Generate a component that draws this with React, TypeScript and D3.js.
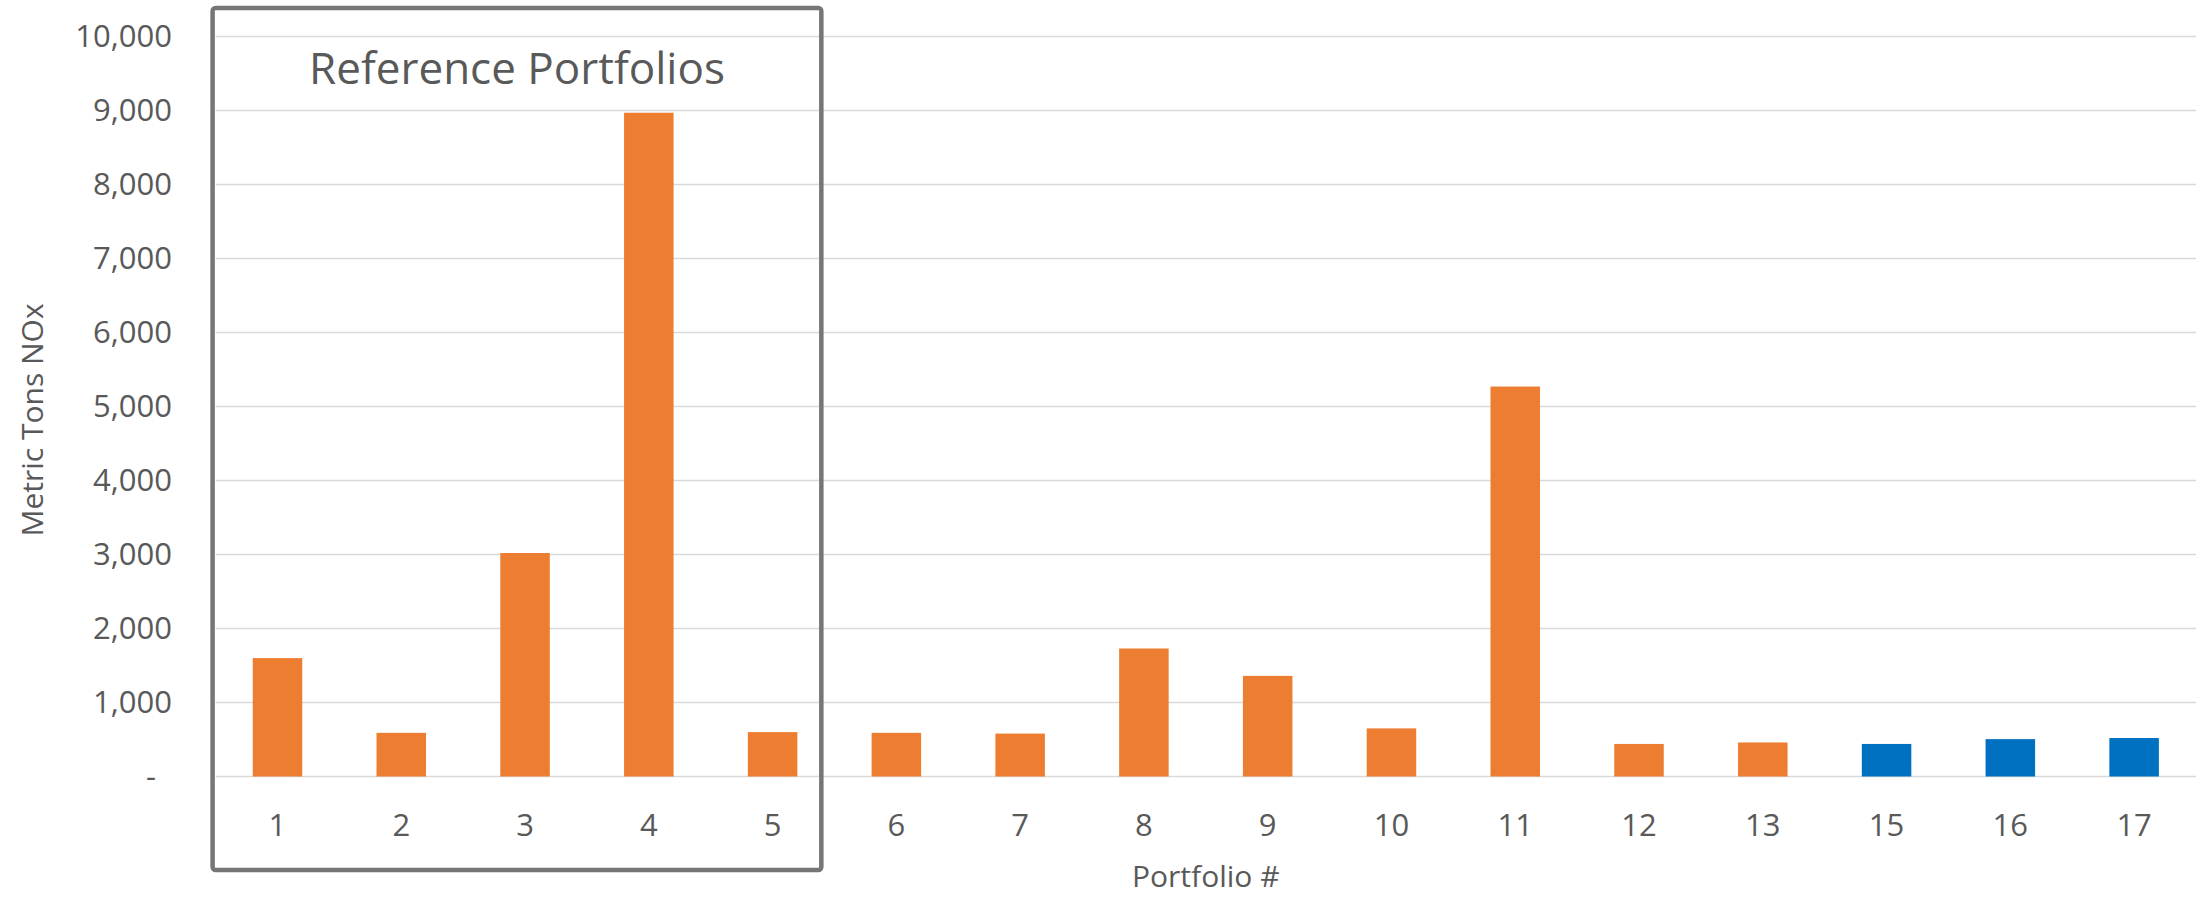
import React from "react";
import * as d3 from "d3";

// Portfolio identifiers shown on the category axis
const portfolios = ["1", "2", "3", "4", "5", "6", "7", "8", "9", "10", "11", "12", "13", "15", "16", "17"];
// Annual NOx emissions per portfolio, metric tons
const noxTons = [1600, 590, 3020, 8970, 600, 590, 580, 1730, 1360, 650, 5270, 440, 460, 440, 505, 520];
// Portfolio group: "base" portfolios in orange, "alt" portfolios in blue
const groups = ["base", "base", "base", "base", "base", "base", "base", "base", "base", "base", "base", "base", "base", "alt", "alt", "alt"];
// Value-axis ticks
const yTicks = [0, 1000, 2000, 3000, 4000, 5000, 6000, 7000, 8000, 9000, 10000];
// Portfolios enclosed by the reference box
const referenceSet = ["1", "2", "3", "4", "5"];

const W = 2198;
const H = 897;
const plot = { left: 215.6, right: 2196, top: 36.5, bottom: 776.5 };

const groupColor: Record<string, string> = { base: "#ED7D31", alt: "#0070C0" };
const textColor = "#595959";
const font = "'Open Sans', sans-serif";

export default function App() {
  const x = d3
    .scaleBand<string>()
    .domain(portfolios)
    .range([plot.left, plot.right])
    .paddingInner(0.6)
    .paddingOuter(0.3);
  const y = d3.scaleLinear().domain([0, 10000]).range([plot.bottom, plot.top]);
  const fmt = d3.format(",");

  const lastRef = referenceSet[referenceSet.length - 1];
  const boxLeft = plot.left - 3;
  const boxRight = (x(lastRef) ?? 0) + x.bandwidth() + 24;
  const boxTop = 8;
  const boxBottom = 870;

  return (
    <svg
      width={W}
      height={H}
      style={{ position: "absolute", left: 0, top: 0, background: "#fff" }}
      fontFamily={font}
    >
      {/* horizontal gridlines */}
      {yTicks.map((t) => (
        <line
          key={"g" + t}
          x1={plot.left}
          x2={plot.right}
          y1={y(t)}
          y2={y(t)}
          stroke="#D9D9D9"
          strokeWidth={1.5}
        />
      ))}

      {/* bars */}
      {portfolios.map((p, i) => (
        <rect
          key={"b" + p}
          x={x(p)}
          y={y(noxTons[i])}
          width={x.bandwidth()}
          height={y(0) - y(noxTons[i])}
          fill={groupColor[groups[i]]}
        />
      ))}

      {/* value axis labels */}
      {yTicks.map((t) => (
        <text
          key={"yl" + t}
          x={t === 0 ? 156 : 172}
          y={y(t)}
          dy="0.35em"
          textAnchor="end"
          fontSize={31}
          fill={textColor}
        >
          {t === 0 ? "-" : fmt(t)}
        </text>
      ))}

      {/* category axis labels */}
      {portfolios.map((p) => (
        <text
          key={"xl" + p}
          x={(x(p) ?? 0) + x.bandwidth() / 2}
          y={836}
          textAnchor="middle"
          fontSize={31}
          fill={textColor}
        >
          {p}
        </text>
      ))}

      {/* axis titles */}
      <text
        x={(plot.left + plot.right) / 2}
        y={887}
        textAnchor="middle"
        fontSize={30}
        fill={textColor}
      >
        Portfolio #
      </text>
      <text
        transform={`translate(43, 420) rotate(-90)`}
        textAnchor="middle"
        fontSize={30}
        fill={textColor}
      >
        Metric Tons NOx
      </text>

      {/* reference portfolio box */}
      <rect
        x={boxLeft}
        y={boxTop}
        width={boxRight - boxLeft}
        height={boxBottom - boxTop}
        rx={3}
        fill="none"
        stroke="#767676"
        strokeWidth={4.5}
      />
      <text
        x={(boxLeft + boxRight) / 2}
        y={83.5}
        textAnchor="middle"
        fontSize={44}
        fill={textColor}
      >
        Reference Portfolios
      </text>
    </svg>
  );
}
